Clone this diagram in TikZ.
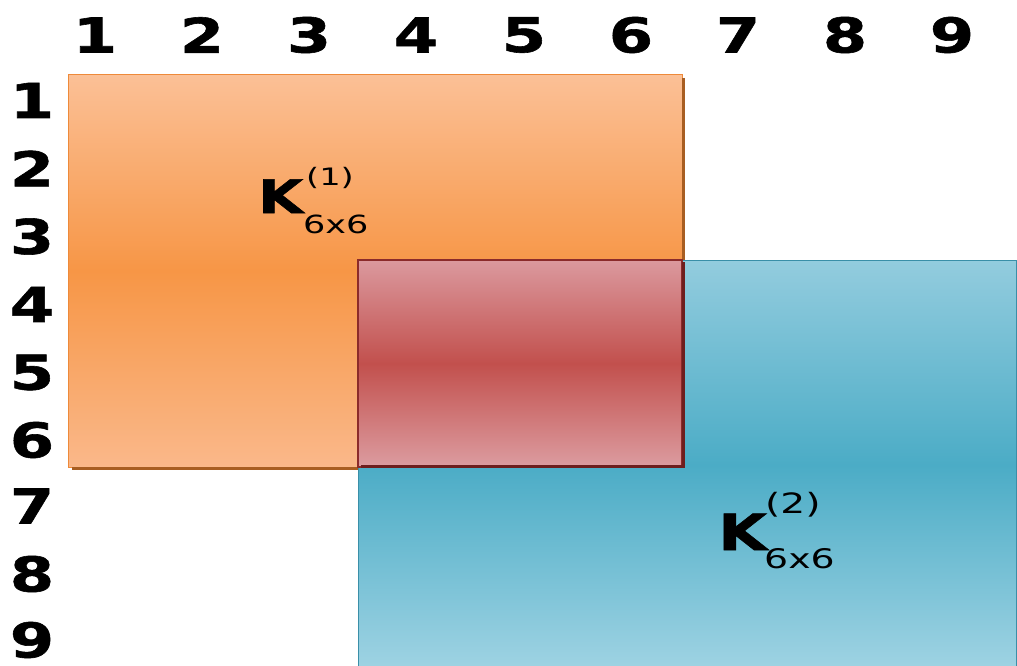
\documentclass[tikz,border=0pt]{standalone}
\usepackage{fontspec}
\setmainfont{DejaVu Sans}
\newfontfamily\wfont[FakeStretch=1.4]{DejaVu Sans}
\newfontfamily\nfont[FakeStretch=1.33,BoldFeatures={FakeBold=1.2}]{DejaVu Sans}
\newfontfamily\kfont[FakeStretch=1.26,BoldFeatures={FakeBold=1.2}]{DejaVu Sans}
\definecolor{orange1}{HTML}{FBC096}
\definecolor{orange2}{HTML}{F79646}
\definecolor{orange3}{HTML}{FAB88A}
\definecolor{orangeB}{HTML}{EE8A3A}
\definecolor{orangeS}{HTML}{A85E22}
\definecolor{blue1}{HTML}{93CCDE}
\definecolor{blue2}{HTML}{4BACC6}
\definecolor{blue3}{HTML}{9FD3E3}
\definecolor{blueB}{HTML}{3A8FA8}
\definecolor{red1}{HTML}{DB999E}
\definecolor{red2}{HTML}{C2504D}
\definecolor{red3}{HTML}{DC9CA0}
\definecolor{redB}{HTML}{8B2B2B}
\definecolor{redS}{HTML}{6E1E1E}
\begin{document}
\begin{tikzpicture}[x=1pt,y=-1pt,
  num/.style={font=\nfont\fontsize{48}{48}\selectfont\bfseries, inner sep=0pt, anchor=center},
  bigk/.style={font=\kfont\bfseries, inner sep=0pt, anchor=base west},
  smallk/.style={font=\wfont, inner sep=0pt, anchor=base west},
  orangebox/.style={draw=orangeB, line width=1pt, top color=orange1, bottom color=orange3, middle color=orange2},
  bluebox/.style={draw=blueB, line width=1pt, top color=blue1, bottom color=blue3, middle color=blue2},
  redbox/.style={draw=redB, line width=1.5pt, top color=red1, bottom color=red3, middle color=red2},
  shadowline/.style={line width=2.5pt}]
\useasboundingbox (0,0) rectangle (1017,666);
\fill[white] (0,0) rectangle (1017,666);
% blocks
\path[orangebox] (68,75) rectangle (682,467);
\draw[shadowline, orangeS] (72,468.5) -- (358,468.5);
\draw[shadowline, orangeS] (683.5,78) -- (683.5,261);
\path[bluebox] (358,260) rectangle (1016,670);
\path[redbox] (358,260) rectangle (682,467);
\draw[shadowline, redS] (361,466.5) -- (683.5,466.5) -- (683.5,262);
% column numbers
\foreach \i/\x in {1/95,2/202,3/309,4/416,5/524,6/631,7/738,8/845,9/952}
  \node[num] (c\i) at (\x,35) {\i};
% row numbers
\foreach \i/\y in {1/100.5,2/168.5,3/236.5,4/304.5,5/372.5,6/440,7/506,8/574,9/640}
  \node[num] (r\i) at (32,\y) {\i};
% labels
\node[bigk, font=\kfont\fontsize{46}{46}\selectfont\bfseries] (k1) at (258,213) {K};
\node[smallk, font=\wfont\fontsize{24}{24}\selectfont] (k1s) at (306,185) {(1)};
\node[smallk, font=\wfont\fontsize{25}{25}\selectfont] (k1b) at (303,233) {6x6};
\node[bigk, font=\kfont\fontsize{50}{50}\selectfont\bfseries] (k2) at (718,550) {K};
\node[smallk, font=\wfont\fontsize{28}{28}\selectfont] (k2s) at (765,513) {(2)};
\node[smallk, font=\wfont\fontsize{27}{27}\selectfont] (k2b) at (764,568) {6x6};
\end{tikzpicture}
\end{document}
